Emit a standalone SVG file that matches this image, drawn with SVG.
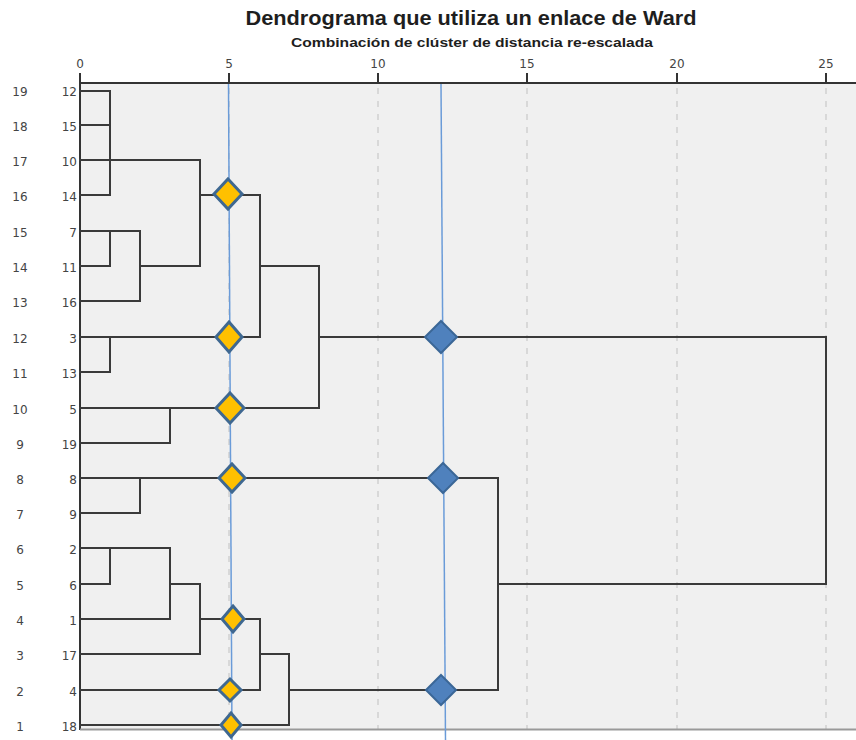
<svg xmlns="http://www.w3.org/2000/svg" width="856" height="740" viewBox="0 0 856 740">
<defs>
<style>
.t{font-family:"DejaVu Sans","Liberation Sans",sans-serif;fill:#333;}
.title{font-family:"Liberation Sans",Arial,sans-serif;font-size:21px;font-weight:bold;fill:#1e1e1e;}
.sub{font-family:"Liberation Sans",Arial,sans-serif;font-size:12.5px;font-weight:bold;fill:#1e1e1e;}
.tick{font-size:12px;text-anchor:middle;fill:#444;}
.row{font-size:12px;text-anchor:middle;fill:#444;}
.case{font-size:12px;text-anchor:end;fill:#444;}
.grid{stroke:#cfcfcf;stroke-width:1.5;stroke-dasharray:6 7;fill:none;}
.ln{stroke:#3a3a3a;stroke-width:2;fill:none;stroke-linecap:square;}
.ref{stroke:#6a9bd8;stroke-width:1.5;fill:none;}
.yd{fill:#ffc000;stroke:#3f6891;stroke-width:3;}
.bd{fill:#4f81bd;stroke:#3b6797;stroke-width:2;}
</style>
</defs>
<rect x="0" y="0" width="856" height="740" fill="#ffffff"/>
<rect x="80" y="83" width="776" height="646" fill="#f0f0f0"/>
<g id="title">
<text class="title" x="471" y="25" text-anchor="middle" textLength="451" lengthAdjust="spacingAndGlyphs">Dendrograma que utiliza un enlace de Ward</text>
<text class="sub" x="472" y="47" text-anchor="middle" textLength="362" lengthAdjust="spacingAndGlyphs">Combinación de clúster de distancia re-escalada</text>
</g>
<g id="grid">
<line class="grid" x1="229" y1="88" x2="229" y2="729"/>
<line class="grid" x1="378" y1="88" x2="378" y2="729"/>
<line class="grid" x1="527" y1="88" x2="527" y2="729"/>
<line class="grid" x1="677" y1="88" x2="677" y2="729"/>
<line class="grid" x1="826" y1="88" x2="826" y2="729"/>
</g>
<g id="axis">
<line x1="80" y1="83" x2="856" y2="83" stroke="#333" stroke-width="2"/>
<line x1="80" y1="83" x2="80" y2="730" stroke="#333" stroke-width="2"/>
<line x1="80" y1="729.5" x2="856" y2="729.5" stroke="#999" stroke-width="2"/>
<g stroke="#333" stroke-width="2">
<line x1="80" y1="73" x2="80" y2="83"/>
<line x1="229" y1="73" x2="229" y2="83"/>
<line x1="378" y1="73" x2="378" y2="83"/>
<line x1="527" y1="73" x2="527" y2="83"/>
<line x1="677" y1="73" x2="677" y2="83"/>
<line x1="826" y1="73" x2="826" y2="83"/>
</g>
<text class="t tick" x="80" y="68">0</text>
<text class="t tick" x="229" y="68">5</text>
<text class="t tick" x="378" y="68">10</text>
<text class="t tick" x="527" y="68">15</text>
<text class="t tick" x="677" y="68">20</text>
<text class="t tick" x="826" y="68">25</text>
</g>
<g id="labels">
<text class="t row" x="20" y="96">19</text><text class="t case" x="77" y="96">12</text>
<text class="t row" x="20" y="131">18</text><text class="t case" x="77" y="131">15</text>
<text class="t row" x="20" y="166">17</text><text class="t case" x="77" y="166">10</text>
<text class="t row" x="20" y="201">16</text><text class="t case" x="77" y="201">14</text>
<text class="t row" x="20" y="237">15</text><text class="t case" x="77" y="237">7</text>
<text class="t row" x="20" y="272">14</text><text class="t case" x="77" y="272">11</text>
<text class="t row" x="20" y="307">13</text><text class="t case" x="77" y="307">16</text>
<text class="t row" x="20" y="343">12</text><text class="t case" x="77" y="343">3</text>
<text class="t row" x="20" y="378">11</text><text class="t case" x="77" y="378">13</text>
<text class="t row" x="20" y="414">10</text><text class="t case" x="77" y="414">5</text>
<text class="t row" x="20" y="449">9</text><text class="t case" x="77" y="449">19</text>
<text class="t row" x="20" y="484">8</text><text class="t case" x="77" y="484">8</text>
<text class="t row" x="20" y="519">7</text><text class="t case" x="77" y="519">9</text>
<text class="t row" x="20" y="554">6</text><text class="t case" x="77" y="554">2</text>
<text class="t row" x="20" y="590">5</text><text class="t case" x="77" y="590">6</text>
<text class="t row" x="20" y="625">4</text><text class="t case" x="77" y="625">1</text>
<text class="t row" x="20" y="660">3</text><text class="t case" x="77" y="660">17</text>
<text class="t row" x="20" y="696">2</text><text class="t case" x="77" y="696">4</text>
<text class="t row" x="20" y="731">1</text><text class="t case" x="77" y="731">18</text>
</g>
<g id="connectors">
<path class="ln" d="M80 91H110M80 125H110M80 195H110M110 91V195M80 160H200"/>
<path class="ln" d="M80 231H140M80 266H110M110 231V266M140 231V301M80 301H140M140 266H200M200 160V266M200 195H260M260 195V337"/>
<path class="ln" d="M80 337H260M80 372H110M110 337V372M260 266H319M319 266V408"/>
<path class="ln" d="M80 408H319M80 443H170M170 408V443"/>
<path class="ln" d="M319 337H826M826 337V584"/>
<path class="ln" d="M80 478H498M80 513H140M140 478V513"/>
<path class="ln" d="M80 548H170M80 584H110M110 548V584M80 619H170M170 548V619M170 584H200M80 654H200M200 584V654M200 619H260M80 690H260M260 619V690M260 654H289M80 725H289M289 654V725M289 690H498M498 478V690M498 584H826"/>
</g>
<g id="cutlines">
<line class="ref" x1="228.5" y1="84" x2="232" y2="740"/>
<line class="ref" x1="441" y1="84" x2="445.5" y2="740"/>
</g>
<g id="markers">
<path class="yd" d="M228 179L242 194L228 209L214 194Z"/>
<path class="yd" d="M229 322L242 337L229 352L216 337Z"/>
<path class="yd" d="M230 393L244 408L230 423L216 408Z"/>
<path class="yd" d="M232 464L245 478L232 492L219 478Z"/>
<path class="yd" d="M233 606L244 619L233 632L222 619Z"/>
<path class="yd" d="M230 679L241 690L230 701L219 690Z"/>
<path class="yd" d="M231 713L241 725L231 737L221 725Z"/>
<path class="bd" d="M441 321L457 337L441 353L425 337Z"/>
<path class="bd" d="M443 463L458 478L443 493L428 478Z"/>
<path class="bd" d="M441 675L456 690L441 705L426 690Z"/>
</g>
</svg>
